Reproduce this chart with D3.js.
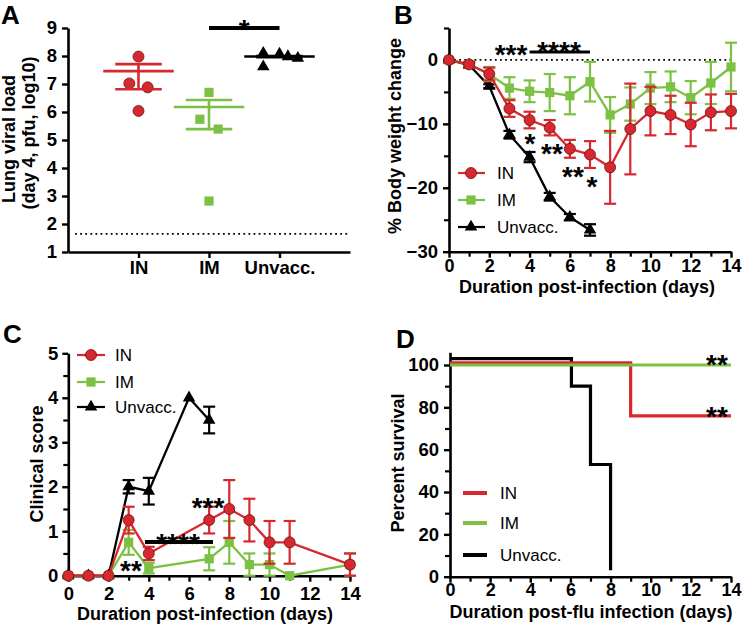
<!DOCTYPE html>
<html><head><meta charset="utf-8">
<script src="https://cdn.jsdelivr.net/npm/d3@7"></script>
<style>body{margin:0;background:#fff}svg{display:block}</style>
</head><body><svg id="c" width="742" height="627"></svg>
<script>
// ---------------- DATA ----------------
// Panel A: lung viral load (day 4, log10 pfu)
const groupsA = ["IN", "IM", "Unvacc."];
const viralIN = [7.98, 7.02, 6.88, 6.04];
const viralIM = [6.70, 5.74, 5.39, 2.82];
const viralUnvacc = [8.10, 7.62, 8.07, 7.98, 7.92];
const viralMean = [7.46, 6.18, 7.98];
const viralSemHi = [7.71, 6.43, 8.00];
const viralSemLo = [6.81, 5.39, 7.96];
const detectionLimit = 1.65;
const ticksA = [1, 2, 3, 4, 5, 6, 7, 8, 9];

// Panel B: % body weight change
const daysB = [0, 1, 2, 3, 4, 5, 6, 7, 8, 9, 10, 11, 12, 13, 14];
const weightIN = [0, -0.7, -2.2, -7.6, -9.4, -10.6, -13.9, -14.8, -16.8, -10.8, -8.0, -8.6, -10.1, -8.2, -8.0];
const weightINErr = [0, 0.4, 1.0, 1.3, 1.3, 1.2, 1.4, 2.1, 5.7, 7.1, 3.8, 3.0, 3.4, 2.8, 2.7];
const weightIM = [0, -0.7, -2.2, -4.4, -4.9, -5.1, -5.6, -3.4, -8.6, -6.9, -4.4, -4.2, -5.9, -3.6, -1.1];
const weightIMErr = [0, 0.3, 1.1, 1.7, 1.7, 2.9, 2.9, 3.1, 2.8, 2.6, 2.5, 2.4, 2.6, 3.3, 3.8];
const daysBUn = [0, 1, 2, 3, 4, 5, 6, 7];
const weightUn = [0, -0.8, -4.1, -11.7, -15.2, -21.4, -24.6, -26.6];
const weightUnErr = [0, 0.3, 0.3, 0.6, 0.8, 0.6, 0.5, 0.9];

// Panel C: clinical score
const daysCIN = [0, 1, 2, 3, 4, 7, 8, 9, 10, 11, 14];
const scoreIN = [0, 0, 0, 1.25, 0.5, 1.25, 1.5, 1.25, 0.75, 0.75, 0.25];
const scoreINErr = [0, 0, 0, 0.3, 0.15, 0.3, 0.65, 0.48, 0.48, 0.48, 0.25];
const daysCIM = [0, 1, 2, 3, 4, 7, 8, 9, 10, 11, 14];
const scoreIM = [0, 0, 0, 0.75, 0.17, 0.38, 0.75, 0.25, 0.25, 0, 0.25];
const scoreIMErr = [0, 0, 0, 0.28, 0.12, 0.26, 0.48, 0.25, 0.25, 0, 0.25];
const daysCUn = [0, 1, 2, 3, 4, 6, 7];
const scoreUn = [0, 0, 0, 2.0, 1.9, 4.0, 3.5];
const scoreUnErr = [0, 0, 0, 0.15, 0.3, 0, 0.3];

// Panel D: survival (as drawn, with small offsets)
const survTimeIN = [0, 9, 14];
const survIN = [101, 76, 76];
const survTimeIM = [0, 14];
const survIM = [100, 100];
const survTimeUn = [0, 6.05, 7, 8];
const survUn = [103, 90, 53, 3];

const legendLabels = ["IN", "IM", "Unvacc."];

// ---------------- STYLE ----------------
const F = "'Liberation Sans', Arial, Helvetica, sans-serif";
const RED = "#d6282e", GREEN = "#7cc143", BLACK = "#000";
const svg = d3.select("#c");

function styleAxis(g, fs) {
  g.selectAll("path.domain").attr("stroke", "#000").attr("stroke-width", 2.6);
  g.selectAll(".tick line").attr("stroke", "#000").attr("stroke-width", 2.4);
  g.selectAll(".tick text").attr("font-family", F).attr("font-weight", "bold")
    .attr("font-size", fs || 18.5).attr("fill", "#000");
  return g;
}
function minorAxis(g) {
  g.select("path.domain").remove();
  g.selectAll(".tick line").attr("stroke", "#000").attr("stroke-width", 2.2);
}
function title(x, y, txt, rot, size) {
  const t = svg.append("text").attr("font-family", F).attr("font-weight", "bold")
    .attr("font-size", size || 18).attr("text-anchor", "middle").text(txt);
  if (rot) t.attr("transform", `translate(${x},${y}) rotate(-90)`);
  else t.attr("x", x).attr("y", y);
  return t;
}
function letter(x, y, L) {
  svg.append("text").attr("x", x).attr("y", y).attr("font-family", F)
    .attr("font-weight", "bold").attr("font-size", 26).text(L);
}
function stars(x, yc, s) {
  svg.append("text").attr("x", x).attr("y", yc + 16).attr("font-family", F)
    .attr("font-weight", "bold").attr("font-size", 28).attr("text-anchor", "middle").text(s);
}
const sym = {
  circle: d3.symbol().type(d3.symbolCircle).size(95),
  square: d3.symbol().type(d3.symbolSquare).size(85),
  triangle: d3.symbol().type(d3.symbolTriangle).size(68)
};
function marker(g, x, y, type, color) {
  const p = g.append("path").attr("d", sym[type]()).attr("transform", `translate(${x},${y})`).attr("fill", color);
  if (type === "circle") p.attr("stroke", "#6b1114").attr("stroke-width", 0.8);
}

// series drawer with error bars
function series(g, xs, ys, days, vals, errs, color, type, cap) {
  const pts = days.map((d, i) => ({ x: xs(d), y: ys(vals[i]), lo: ys(vals[i] - errs[i]), hi: ys(vals[i] + errs[i]) }));
  g.append("path").datum(pts).attr("fill", "none").attr("stroke", color).attr("stroke-width", 2.3)
    .attr("d", d3.line().x(d => d.x).y(d => d.y));
  pts.forEach((p, i) => {
    if (errs[i] > 0) {
      const lo = Math.min(p.lo, ys.range()[0]);
      g.append("line").attr("x1", p.x).attr("x2", p.x).attr("y1", lo).attr("y2", p.hi).attr("stroke", color).attr("stroke-width", 2.2);
      [p.hi, lo].forEach(yy => g.append("line").attr("x1", p.x - cap).attr("x2", p.x + cap).attr("y1", yy).attr("y2", yy)
        .attr("stroke", color).attr("stroke-width", 2.2));
    }
  });
  pts.forEach(p => marker(g, p.x, p.y, type, color));
}

// ================= PANEL A =================
{
  const xA = d3.scaleLinear().domain([0, 4]).range([68, 350]);
  const yA = d3.scaleLinear().domain([1, 9]).range([252, 28]);
  const g = svg.append("g");
  g.append("line").attr("x1", xA(0.1)).attr("x2", xA(4)).attr("y1", yA(detectionLimit)).attr("y2", yA(detectionLimit))
    .attr("stroke", "#000").attr("stroke-width", 1.8).attr("stroke-dasharray", "1.8,3.3");
  styleAxis(g.append("g").attr("transform", "translate(68,0)")
    .call(d3.axisLeft(yA).tickValues(ticksA).tickFormat(d3.format("d")).tickSize(6).tickPadding(5).tickSizeOuter(0)));
  styleAxis(g.append("g").attr("transform", "translate(0,252)")
    .call(d3.axisBottom(xA).tickValues([1, 2, 3]).tickFormat(d => groupsA[d - 1]).tickSize(6).tickPadding(3).tickSizeOuter(0)));

  const groups = [
    { vals: viralIN, jit: [0, -0.13, 0.13, 0], color: RED, type: "circle" },
    { vals: viralIM, jit: [0, -0.13, 0.13, 0], color: GREEN, type: "square" },
    { vals: viralUnvacc, jit: [-0.23, -0.23, 0, 0.12, 0.26], color: BLACK, type: "triangle" }
  ];
  groups.forEach((grp, i) => {
    const c = i + 1;
    grp.vals.forEach((v, j) => marker(g, xA(c + grp.jit[j]), yA(v), grp.type, grp.color));
    g.append("line").attr("x1", xA(c - 0.5)).attr("x2", xA(c + 0.5)).attr("y1", yA(viralMean[i])).attr("y2", yA(viralMean[i]))
      .attr("stroke", grp.color).attr("stroke-width", 2.6);
    g.append("line").attr("x1", xA(c)).attr("x2", xA(c)).attr("y1", yA(viralSemHi[i])).attr("y2", yA(viralSemLo[i]))
      .attr("stroke", grp.color).attr("stroke-width", 2.6);
    [viralSemHi[i], viralSemLo[i]].forEach(v => g.append("line").attr("x1", xA(c - 0.33)).attr("x2", xA(c + 0.33))
      .attr("y1", yA(v)).attr("y2", yA(v)).attr("stroke", grp.color).attr("stroke-width", 2.6));
  });
  g.append("line").attr("x1", xA(2)).attr("x2", xA(3)).attr("y1", yA(9)).attr("y2", yA(9)).attr("stroke", "#000").attr("stroke-width", 4);
  stars(xA(2.5), 22.5, "*");
  title(15, 139, "Lung viral load", true);
  title(35, 133, "(day 4, pfu, log10)", true);
  letter(1, 24, "A");
}

// ================= PANEL B =================
{
  const xB = d3.scaleLinear().domain([0, 14]).range([449, 731]);
  const yB = d3.scaleLinear().domain([-30, 5]).range([251.7, 28]);
  const g = svg.append("g");
  g.append("line").attr("x1", xB(0)).attr("x2", xB(14)).attr("y1", yB(0)).attr("y2", yB(0))
    .attr("stroke", "#000").attr("stroke-width", 1.8).attr("stroke-dasharray", "1.8,3.3");
  minorAxis(g.append("g").attr("transform", "translate(449,0)").call(d3.axisLeft(yB).tickValues([-25, -15, -5, 5]).tickSize(5).tickFormat("")));
  minorAxis(g.append("g").attr("transform", "translate(0,251.7)").call(d3.axisBottom(xB).tickValues([1, 3, 5, 7, 9, 11, 13]).tickSize(5).tickFormat("")));
  styleAxis(g.append("g").attr("transform", "translate(449,0)")
    .call(d3.axisLeft(yB).tickValues([-30, -20, -10, 0]).tickFormat(d3.format("d")).tickSize(6).tickPadding(5).tickSizeOuter(0)));
  styleAxis(g.append("g").attr("transform", "translate(0,251.7)")
    .call(d3.axisBottom(xB).tickValues([0, 2, 4, 6, 8, 10, 12, 14]).tickSize(6).tickPadding(2).tickSizeOuter(0)), 18);
  series(g, xB, yB, daysBUn, weightUn, weightUnErr, BLACK, "triangle", 6);
  series(g, xB, yB, daysB, weightIM, weightIMErr, GREEN, "square", 6);
  series(g, xB, yB, daysB, weightIN, weightINErr, RED, "circle", 6);
  g.append("line").attr("x1", xB(4)).attr("x2", xB(7)).attr("y1", 52).attr("y2", 52).attr("stroke", "#000").attr("stroke-width", 3);
  stars(511, 48, "***");
  stars(559, 45, "****");
  stars(530, 137, "*");
  stars(552, 147, "**");
  stars(573, 170, "**");
  stars(592, 180, "*");
  const cols = [RED, GREEN, BLACK], types = ["circle", "square", "triangle"], ly = [173, 200, 227];
  legendLabels.forEach((l, i) => {
    g.append("line").attr("x1", 458).attr("x2", 485).attr("y1", ly[i]).attr("y2", ly[i]).attr("stroke", cols[i]).attr("stroke-width", 2.2);
    marker(g, 471, ly[i], types[i], cols[i]);
    g.append("text").attr("x", 497).attr("y", ly[i] + 6).attr("font-family", F).attr("font-size", 17).text(l);
  });
  title(401, 136, "% Body weight change", true);
  title(587, 293, "Duration post-infection (days)");
  letter(394, 24, "B");
}

// ================= PANEL C =================
{
  const xC = d3.scaleLinear().domain([0, 14]).range([68.3, 350]);
  const yC = d3.scaleLinear().domain([0, 5]).range([575.7, 353.3]);
  const g = svg.append("g");
  minorAxis(g.append("g").attr("transform", "translate(68.3,0)").call(d3.axisLeft(yC).tickValues([0.5, 1.5, 2.5, 3.5, 4.5]).tickSize(5).tickFormat("")));
  minorAxis(g.append("g").attr("transform", "translate(0,575.7)").call(d3.axisBottom(xC).tickValues([1, 3, 5, 7, 9, 11, 13]).tickSize(5).tickFormat("")));
  styleAxis(g.append("g").attr("transform", "translate(68.3,0)")
    .call(d3.axisLeft(yC).tickValues([0, 1, 2, 3, 4, 5]).tickFormat(d3.format("d")).tickSize(6).tickPadding(4).tickSizeOuter(0)));
  styleAxis(g.append("g").attr("transform", "translate(0,575.7)")
    .call(d3.axisBottom(xC).tickValues([0, 2, 4, 6, 8, 10, 12, 14]).tickSize(6).tickPadding(5).tickSizeOuter(0)));
  series(g, xC, yC, daysCUn, scoreUn, scoreUnErr, BLACK, "triangle", 6);
  series(g, xC, yC, daysCIM, scoreIM, scoreIMErr, GREEN, "square", 6);
  series(g, xC, yC, daysCIN, scoreIN, scoreINErr, RED, "circle", 6);
  g.append("line").attr("x1", xC(3.81)).attr("x2", xC(7.19)).attr("y1", 542).attr("y2", 542).attr("stroke", "#000").attr("stroke-width", 4);
  stars(131, 564, "**");
  stars(178, 537, "****");
  stars(208, 501, "***");
  const cols = [RED, GREEN, BLACK], types = ["circle", "square", "triangle"], ly = [355, 382, 407];
  legendLabels.forEach((l, i) => {
    g.append("line").attr("x1", 77).attr("x2", 105).attr("y1", ly[i]).attr("y2", ly[i]).attr("stroke", cols[i]).attr("stroke-width", 2.2);
    marker(g, 91, ly[i], types[i], cols[i]);
    g.append("text").attr("x", 115).attr("y", ly[i] + 6).attr("font-family", F).attr("font-size", 17).text(l);
  });
  title(43, 464, "Clinical score", true);
  title(205, 620, "Duration post-infection (days)");
  letter(3, 343, "C");
}

// ================= PANEL D =================
{
  const xD = d3.scaleLinear().domain([0, 14]).range([450, 731]);
  const yD = d3.scaleLinear().domain([0, 106]).range([576.7, 352.3]);
  const g = svg.append("g");
  minorAxis(g.append("g").attr("transform", "translate(450,0)").call(d3.axisLeft(yD).tickValues([10, 30, 50, 70, 90]).tickSize(5).tickFormat("")));
  minorAxis(g.append("g").attr("transform", "translate(0,576.7)").call(d3.axisBottom(xD).tickValues([1, 3, 5, 7, 9, 11, 13]).tickSize(5).tickFormat("")));
  styleAxis(g.append("g").attr("transform", "translate(450,0)")
    .call(d3.axisLeft(yD).tickValues([0, 20, 40, 60, 80, 100]).tickFormat(d3.format("d")).tickSize(6).tickPadding(5).tickSizeOuter(0)));
  styleAxis(g.append("g").attr("transform", "translate(0,576.7)")
    .call(d3.axisBottom(xD).tickValues([0, 2, 4, 6, 8, 10, 12, 14]).tickSize(6).tickPadding(1).tickSizeOuter(0)), 18);
  const step = d3.line().curve(d3.curveStepAfter).x(d => xD(d[0])).y(d => yD(d[1]));
  [[survTimeUn, survUn, BLACK], [survTimeIN, survIN, RED], [survTimeIM, survIM, GREEN]].forEach(([t, s, c]) => {
    g.append("path").datum(t.map((v, i) => [v, s[i]])).attr("fill", "none").attr("stroke", c).attr("stroke-width", 3.2).attr("d", step);
  });
  stars(717, 358, "**");
  stars(717, 410, "**");
  const cols = [RED, GREEN, BLACK], ly = [493, 523, 555];
  legendLabels.forEach((l, i) => {
    g.append("line").attr("x1", 463).attr("x2", 487).attr("y1", ly[i]).attr("y2", ly[i]).attr("stroke", cols[i]).attr("stroke-width", 4);
    g.append("text").attr("x", 500).attr("y", ly[i] + 6).attr("font-family", F).attr("font-size", 17).text(l);
  });
  title(404, 463, "Percent survival", true);
  title(591, 618, "Duration post-flu infection (days)");
  letter(396, 348, "D");
}
</script></body></html>
